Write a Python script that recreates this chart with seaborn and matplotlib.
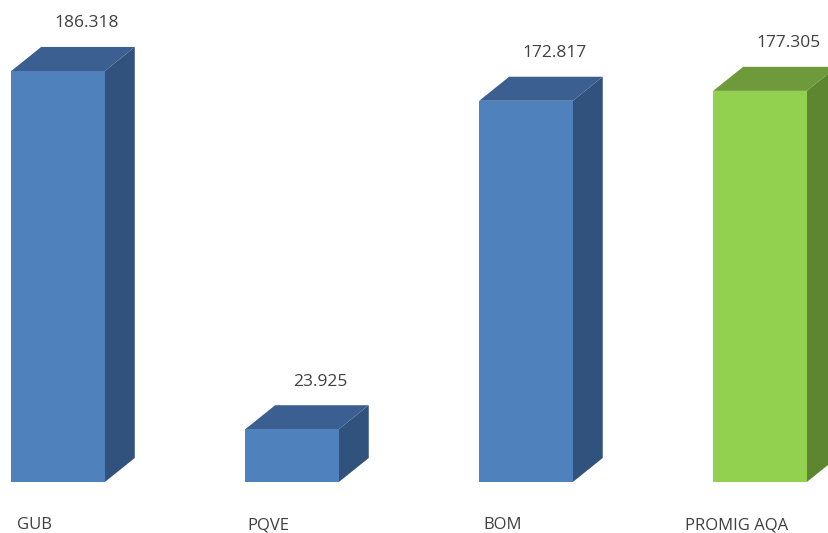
import matplotlib
matplotlib.use("Agg")
import matplotlib.pyplot as plt
from matplotlib.patches import Polygon
import pandas as pd
import seaborn as sns

# Datos
categorias = ["GUB", "PQVE", "BOM", "PROMIG AQA"]
valores = [186.318, 23.925, 172.817, 177.305]
etiquetas = ["186.318", "23.925", "172.817", "177.305"]

# Colores: frente, lado, tapa
col_frente = ["#4F81BD", "#4F81BD", "#4F81BD", "#92D050"]
col_lado = ["#31527C", "#31527C", "#31527C", "#5E8631"]
col_tapa = ["#3A5F90", "#3A5F90", "#3A5F90", "#6E9A3C"]

df = pd.DataFrame({"cat": categorias, "val": valores})

sns.set_style("white")
plt.rcParams["font.family"] = ["Open Sans", "DejaVu Sans"]

fig = plt.figure(figsize=(8.29, 5.33), dpi=100)
ax = fig.add_axes([0, 0, 1, 1])

sns.barplot(data=df, x="cat", y="val", hue="cat", palette=col_frente,
            width=0.40, legend=False, ax=ax, saturation=1, zorder=3,
            edgecolor="none", linewidth=0)

ax.set_xlim(-0.248, 3.295)
ax.set_ylim(-23.1, 218.5)

# profundidad de la perspectiva
dx = 0.128
dy = 10.9

for i, p in enumerate(ax.patches):
    x0 = p.get_x()
    w = p.get_width()
    h = p.get_height()
    x1 = x0 + w
    lado = Polygon([(x1, 0), (x1 + dx, dy), (x1 + dx, h + dy), (x1, h)],
                   closed=True, facecolor=col_lado[i], edgecolor="none", zorder=2)
    tapa = Polygon([(x0, h), (x0 + dx, h + dy), (x1 + dx, h + dy), (x1, h)],
                   closed=True, facecolor=col_tapa[i], edgecolor="none", zorder=2)
    ax.add_patch(lado)
    ax.add_patch(tapa)
    ax.annotate(etiquetas[i], (x0 + w / 2 + dx * 0.95, h + dy),
                xytext=(0, 17), textcoords="offset points",
                ha="center", va="center", fontsize=12.5, color="#404040")

# etiquetas de categoria
trans = matplotlib.transforms.blended_transform_factory(ax.transData, ax.transAxes)
for i, c in enumerate(categorias):
    ax.text(i - 0.1, 8 / 533, c, transform=trans, ha="center", va="center",
            fontsize=12, color="#404040")

ax.set_axis_off()

plt.savefig("out.png", dpi=100)
